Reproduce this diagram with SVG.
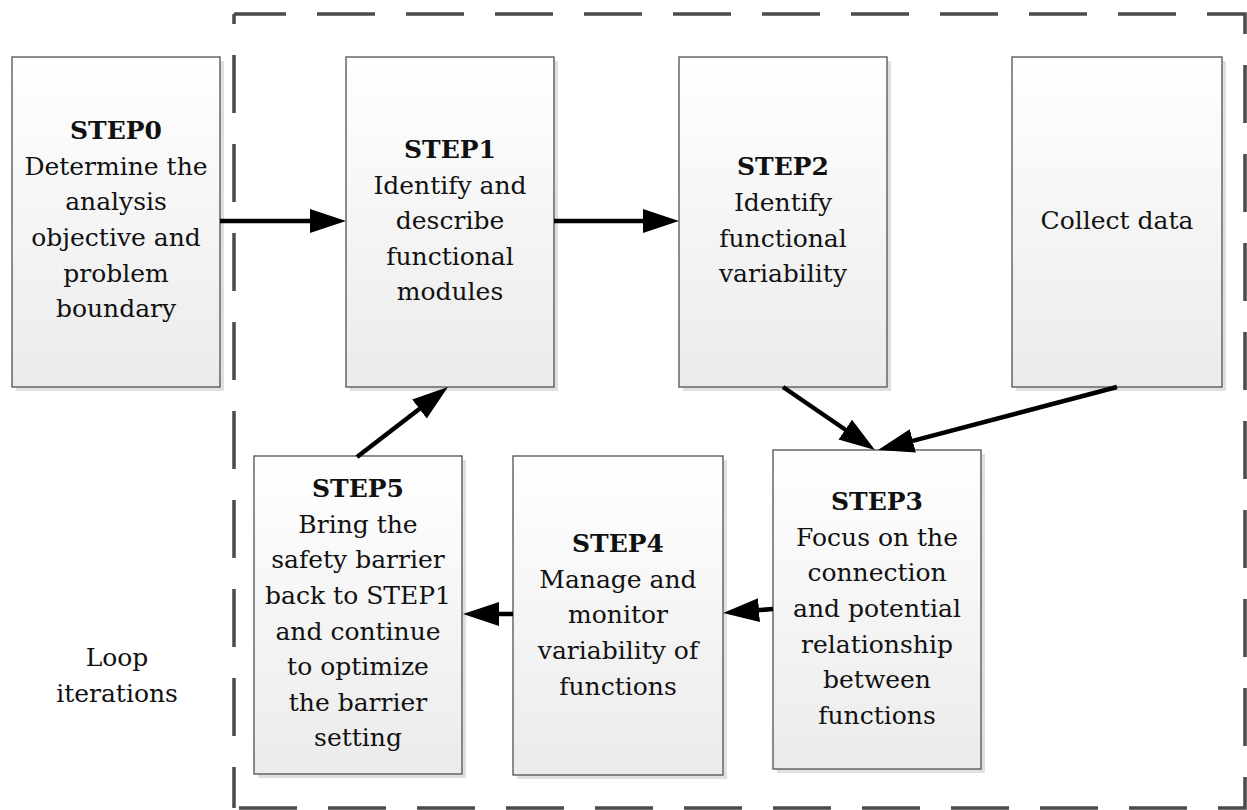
<svg xmlns="http://www.w3.org/2000/svg" width="1247" height="810" viewBox="0 0 1247 810">
  <style>
    .box { fill: url(#boxFill); stroke: #5c5c5c; stroke-width: 1.4; }
    .shadow { fill: #e0e0e0; }
    .lbl { font-family: "DejaVu Serif", "Liberation Serif", serif; font-size: 25px; fill: #111; text-anchor: middle; }
    .hd { font-weight: bold; }
    .edge { stroke: #000; stroke-width: 4.5; fill: none; marker-end: url(#head); }
    .frame { fill: none; stroke: #4a4a4a; stroke-width: 3.5; stroke-dasharray: 58 31; }
  </style>
  <defs>
    <linearGradient id="boxFill" x1="0" y1="0" x2="0" y2="1">
      <stop offset="0" stop-color="#ffffff"/>
      <stop offset="1" stop-color="#ebebeb"/>
    </linearGradient>
    <marker id="head" viewBox="0 0 36 24" refX="6" refY="12" markerWidth="36" markerHeight="24" markerUnits="userSpaceOnUse" orient="auto">
      <path d="M0,0 L36,12 L0,24 Z" fill="#000"/>
    </marker>
  </defs>

  <rect width="1247" height="810" fill="#ffffff"/>

  <!-- dashed loop boundary -->
  <g id="boundary">
    <path class="frame" stroke-dashoffset="6" d="M234,14 H1245 V808 H233"/>
    <path class="frame" stroke-dashoffset="17" d="M234,808 V14"/>
  </g>

  <g id="step0">
    <rect class="shadow" x="16" y="61" width="208" height="330"/>
    <rect class="box" x="12" y="57" width="208" height="330"/>
    <text class="lbl hd" x="116" y="139">STEP0</text>
    <text class="lbl" x="116" y="175">Determine the</text>
    <text class="lbl" x="116" y="210">analysis</text>
    <text class="lbl" x="116" y="246">objective and</text>
    <text class="lbl" x="116" y="282">problem</text>
    <text class="lbl" x="116" y="317">boundary</text>
  </g>

  <g id="step1">
    <rect class="shadow" x="350" y="61" width="208" height="330"/>
    <rect class="box" x="346" y="57" width="208" height="330"/>
    <text class="lbl hd" x="450" y="158">STEP1</text>
    <text class="lbl" x="450" y="194">Identify and</text>
    <text class="lbl" x="450" y="229">describe</text>
    <text class="lbl" x="450" y="265">functional</text>
    <text class="lbl" x="450" y="300">modules</text>
  </g>

  <g id="step2">
    <rect class="shadow" x="683" y="61" width="208" height="330"/>
    <rect class="box" x="679" y="57" width="208" height="330"/>
    <text class="lbl hd" x="783" y="175">STEP2</text>
    <text class="lbl" x="783" y="211">Identify</text>
    <text class="lbl" x="783" y="247">functional</text>
    <text class="lbl" x="783" y="282">variability</text>
  </g>

  <g id="collect-data">
    <rect class="shadow" x="1016" y="61" width="210" height="330"/>
    <rect class="box" x="1012" y="57" width="210" height="330"/>
    <text class="lbl" x="1117" y="229">Collect data</text>
  </g>

  <g id="step3">
    <rect class="shadow" x="777" y="454" width="208" height="319"/>
    <rect class="box" x="773" y="450" width="208" height="319"/>
    <text class="lbl hd" x="877" y="510">STEP3</text>
    <text class="lbl" x="877" y="546">Focus on the</text>
    <text class="lbl" x="877" y="581">connection</text>
    <text class="lbl" x="877" y="617">and potential</text>
    <text class="lbl" x="877" y="653">relationship</text>
    <text class="lbl" x="877" y="688">between</text>
    <text class="lbl" x="877" y="724">functions</text>
  </g>

  <g id="step4">
    <rect class="shadow" x="517" y="460" width="210" height="319"/>
    <rect class="box" x="513" y="456" width="210" height="319"/>
    <text class="lbl hd" x="618" y="552">STEP4</text>
    <text class="lbl" x="618" y="588">Manage and</text>
    <text class="lbl" x="618" y="623">monitor</text>
    <text class="lbl" x="618" y="659">variability of</text>
    <text class="lbl" x="618" y="695">functions</text>
  </g>

  <g id="step5">
    <rect class="shadow" x="258" y="460" width="208" height="318"/>
    <rect class="box" x="254" y="456" width="208" height="318"/>
    <text class="lbl hd" x="358" y="497">STEP5</text>
    <text class="lbl" x="358" y="533">Bring the</text>
    <text class="lbl" x="358" y="568">safety barrier</text>
    <text class="lbl" x="358" y="604">back to STEP1</text>
    <text class="lbl" x="358" y="640">and continue</text>
    <text class="lbl" x="358" y="675">to optimize</text>
    <text class="lbl" x="358" y="711">the barrier</text>
    <text class="lbl" x="358" y="746">setting</text>
  </g>

  <g id="loop-label">
    <text class="lbl" x="117" y="666">Loop</text>
    <text class="lbl" x="117" y="702">iterations</text>
  </g>

  <!-- connectors: each path stops 30px short of its tip; the marker supplies the head -->
  <g id="connectors">
    <path class="edge" d="M220,221 L316,221"/>
    <path class="edge" d="M554,221 L649,221"/>
    <path class="edge" d="M783,387 L850.2,433"/>
    <path class="edge" d="M1117,387 L907,442.4"/>
    <path class="edge" d="M773,609 L753,610.6"/>
    <path class="edge" d="M513,614 L493,614"/>
    <path class="edge" d="M357,457 L424.2,405.3"/>
  </g>
</svg>
